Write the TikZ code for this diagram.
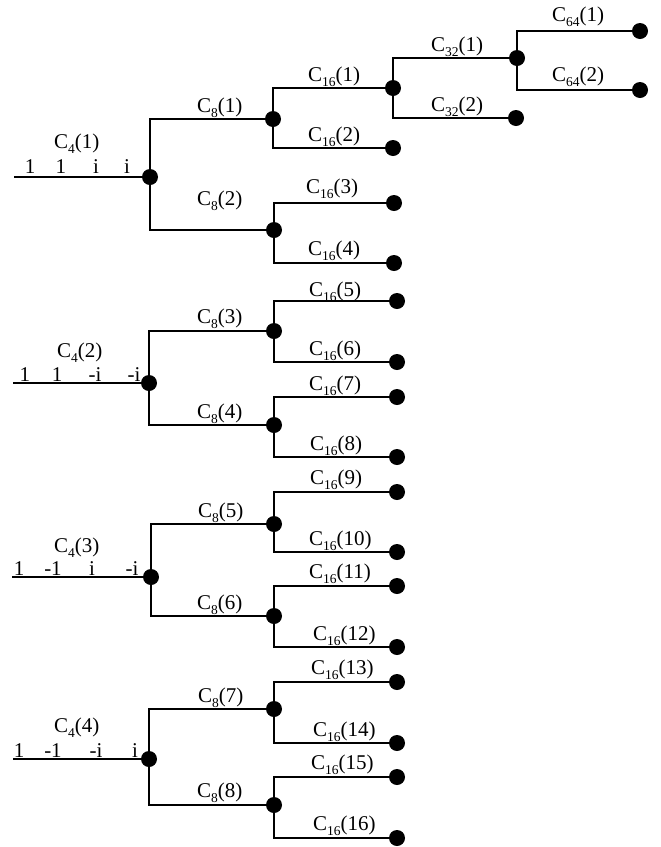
\documentclass[tikz,border=0pt]{standalone}
\usepackage{fontspec}
\setmainfont{Liberation Serif}
\newcommand\Clab[2]{C\raisebox{-5.5pt}{\fontsize{13.5}{13.5}\selectfont #1}(#2)}
\tikzset{
  dot/.style={circle,fill=black,inner sep=0pt,minimum size=16pt},
  wire/.style={line width=1.6pt},
  lab/.style={anchor=base west,inner sep=0pt,font=\fontsize{21}{21}\selectfont},
  sym/.style={anchor=base,inner sep=0pt,font=\fontsize{21}{21}\selectfont},
}
\begin{document}
\begin{tikzpicture}[x=1pt,y=-1pt]
\useasboundingbox (0,0) rectangle (661,847);

% ---------- group 1 ----------
\coordinate (s1) at (14,177);
\node[dot] (a1) at (150,177) {};
\node[dot] (b1) at (273,119) {};
\node[dot] (b2) at (274,230) {};
\node[dot] (c1) at (393,88) {};
\node[dot] (c2) at (393,148) {};
\node[dot] (c3) at (394,203) {};
\node[dot] (c4) at (394,263) {};
\node[dot] (d1) at (517,58) {};
\node[dot] (d2) at (516,118) {};
\node[dot] (e1) at (640,31) {};
\node[dot] (e2) at (640,90) {};

% ---------- group 2 ----------
\coordinate (s2) at (13,383);
\node[dot] (a2) at (149,383) {};
\node[dot] (b3) at (274,331) {};
\node[dot] (b4) at (274,425) {};
\node[dot] (c5) at (397,301) {};
\node[dot] (c6) at (397,362) {};
\node[dot] (c7) at (397,397) {};
\node[dot] (c8) at (397,457) {};

% ---------- group 3 ----------
\coordinate (s3) at (12,577);
\node[dot] (a3) at (151,577) {};
\node[dot] (b5) at (274,524) {};
\node[dot] (b6) at (274,616) {};
\node[dot] (c9) at (397,492) {};
\node[dot] (c10) at (397,552) {};
\node[dot] (c11) at (397,586) {};
\node[dot] (c12) at (397,647) {};

% ---------- group 4 ----------
\coordinate (s4) at (13,759);
\node[dot] (a4) at (149,759) {};
\node[dot] (b7) at (274,709) {};
\node[dot] (b8) at (274,805) {};
\node[dot] (c13) at (397,682) {};
\node[dot] (c14) at (397,743) {};
\node[dot] (c15) at (397,777) {};
\node[dot] (c16) at (397,838) {};

% ---------- wires ----------
\draw[wire] (s1) -- (a1);
\draw[wire] (s2) -- (a2);
\draw[wire] (s3) -- (a3);
\draw[wire] (s4) -- (a4);
\draw[wire] (a1) |- (b1);  \draw[wire] (a1) |- (b2);
\draw[wire] (a2) |- (b3);  \draw[wire] (a2) |- (b4);
\draw[wire] (a3) |- (b5);  \draw[wire] (a3) |- (b6);
\draw[wire] (a4) |- (b7);  \draw[wire] (a4) |- (b8);
\draw[wire] (b1) |- (c1);  \draw[wire] (b1) |- (c2);
\draw[wire] (b2) |- (c3);  \draw[wire] (b2) |- (c4);
\draw[wire] (b3) |- (c5);  \draw[wire] (b3) |- (c6);
\draw[wire] (b4) |- (c7);  \draw[wire] (b4) |- (c8);
\draw[wire] (b5) |- (c9);  \draw[wire] (b5) |- (c10);
\draw[wire] (b6) |- (c11); \draw[wire] (b6) |- (c12);
\draw[wire] (b7) |- (c13); \draw[wire] (b7) |- (c14);
\draw[wire] (b8) |- (c15); \draw[wire] (b8) |- (c16);
\draw[wire] (c1) |- (d1);  \draw[wire] (c1) |- (d2);
\draw[wire] (d1) |- (e1);  \draw[wire] (d1) |- (e2);

% ---------- C4 labels ----------
\node[lab] (l41) at (54,148) {\Clab{4}{1}};
\node[lab] (l42) at (57,357) {\Clab{4}{2}};
\node[lab] (l43) at (54,552) {\Clab{4}{3}};
\node[lab] (l44) at (54,732) {\Clab{4}{4}};

% ---------- sequence symbols ----------
\node[sym] (q11) at (30,173) {1};
\node[sym] (q12) at (61,173) {1};
\node[sym] (q13) at (96,173) {i};
\node[sym] (q14) at (127,173) {i};
\node[sym] (q21) at (25,381) {1};
\node[sym] (q22) at (57,381) {1};
\node[sym] (q23) at (95,381) {-i};
\node[sym] (q24) at (134,381) {-i};
\node[sym] (q31) at (19,575) {1};
\node[sym] (q32) at (53,575) {-1};
\node[sym] (q33) at (92,575) {i};
\node[sym] (q34) at (132,575) {-i};
\node[sym] (q41) at (19,757) {1};
\node[sym] (q42) at (53,757) {-1};
\node[sym] (q43) at (96,757) {-i};
\node[sym] (q44) at (135,757) {i};

% ---------- C8 labels ----------
\node[lab] (l81) at (197,112) {\Clab{8}{1}};
\node[lab] (l82) at (197,205) {\Clab{8}{2}};
\node[lab] (l83) at (197,323) {\Clab{8}{3}};
\node[lab] (l84) at (197,418) {\Clab{8}{4}};
\node[lab] (l85) at (198,517) {\Clab{8}{5}};
\node[lab] (l86) at (197,609) {\Clab{8}{6}};
\node[lab] (l87) at (198,702) {\Clab{8}{7}};
\node[lab] (l88) at (197,797) {\Clab{8}{8}};

% ---------- C16 labels ----------
\node[lab] (m1) at (308,81) {\Clab{16}{1}};
\node[lab] (m2) at (308,141) {\Clab{16}{2}};
\node[lab] (m3) at (306,193) {\Clab{16}{3}};
\node[lab] (m4) at (308,255) {\Clab{16}{4}};
\node[lab] (m5) at (309,296) {\Clab{16}{5}};
\node[lab] (m6) at (309,355) {\Clab{16}{6}};
\node[lab] (m7) at (309,390) {\Clab{16}{7}};
\node[lab] (m8) at (310,450) {\Clab{16}{8}};
\node[lab] (m9) at (310,484) {\Clab{16}{9}};
\node[lab] (m10) at (309,545) {\Clab{16}{10}};
\node[lab] (m11) at (309,578) {\Clab{16}{11}};
\node[lab] (m12) at (313,640) {\Clab{16}{12}};
\node[lab] (m13) at (311,674) {\Clab{16}{13}};
\node[lab] (m14) at (313,736) {\Clab{16}{14}};
\node[lab] (m15) at (311,769) {\Clab{16}{15}};
\node[lab] (m16) at (313,830) {\Clab{16}{16}};

% ---------- C32 / C64 labels ----------
\node[lab] (n1) at (431,51) {\Clab{32}{1}};
\node[lab] (n2) at (431,111) {\Clab{32}{2}};
\node[lab] (p1) at (552,21) {\Clab{64}{1}};
\node[lab] (p2) at (552,81) {\Clab{64}{2}};
\end{tikzpicture}
\end{document}
